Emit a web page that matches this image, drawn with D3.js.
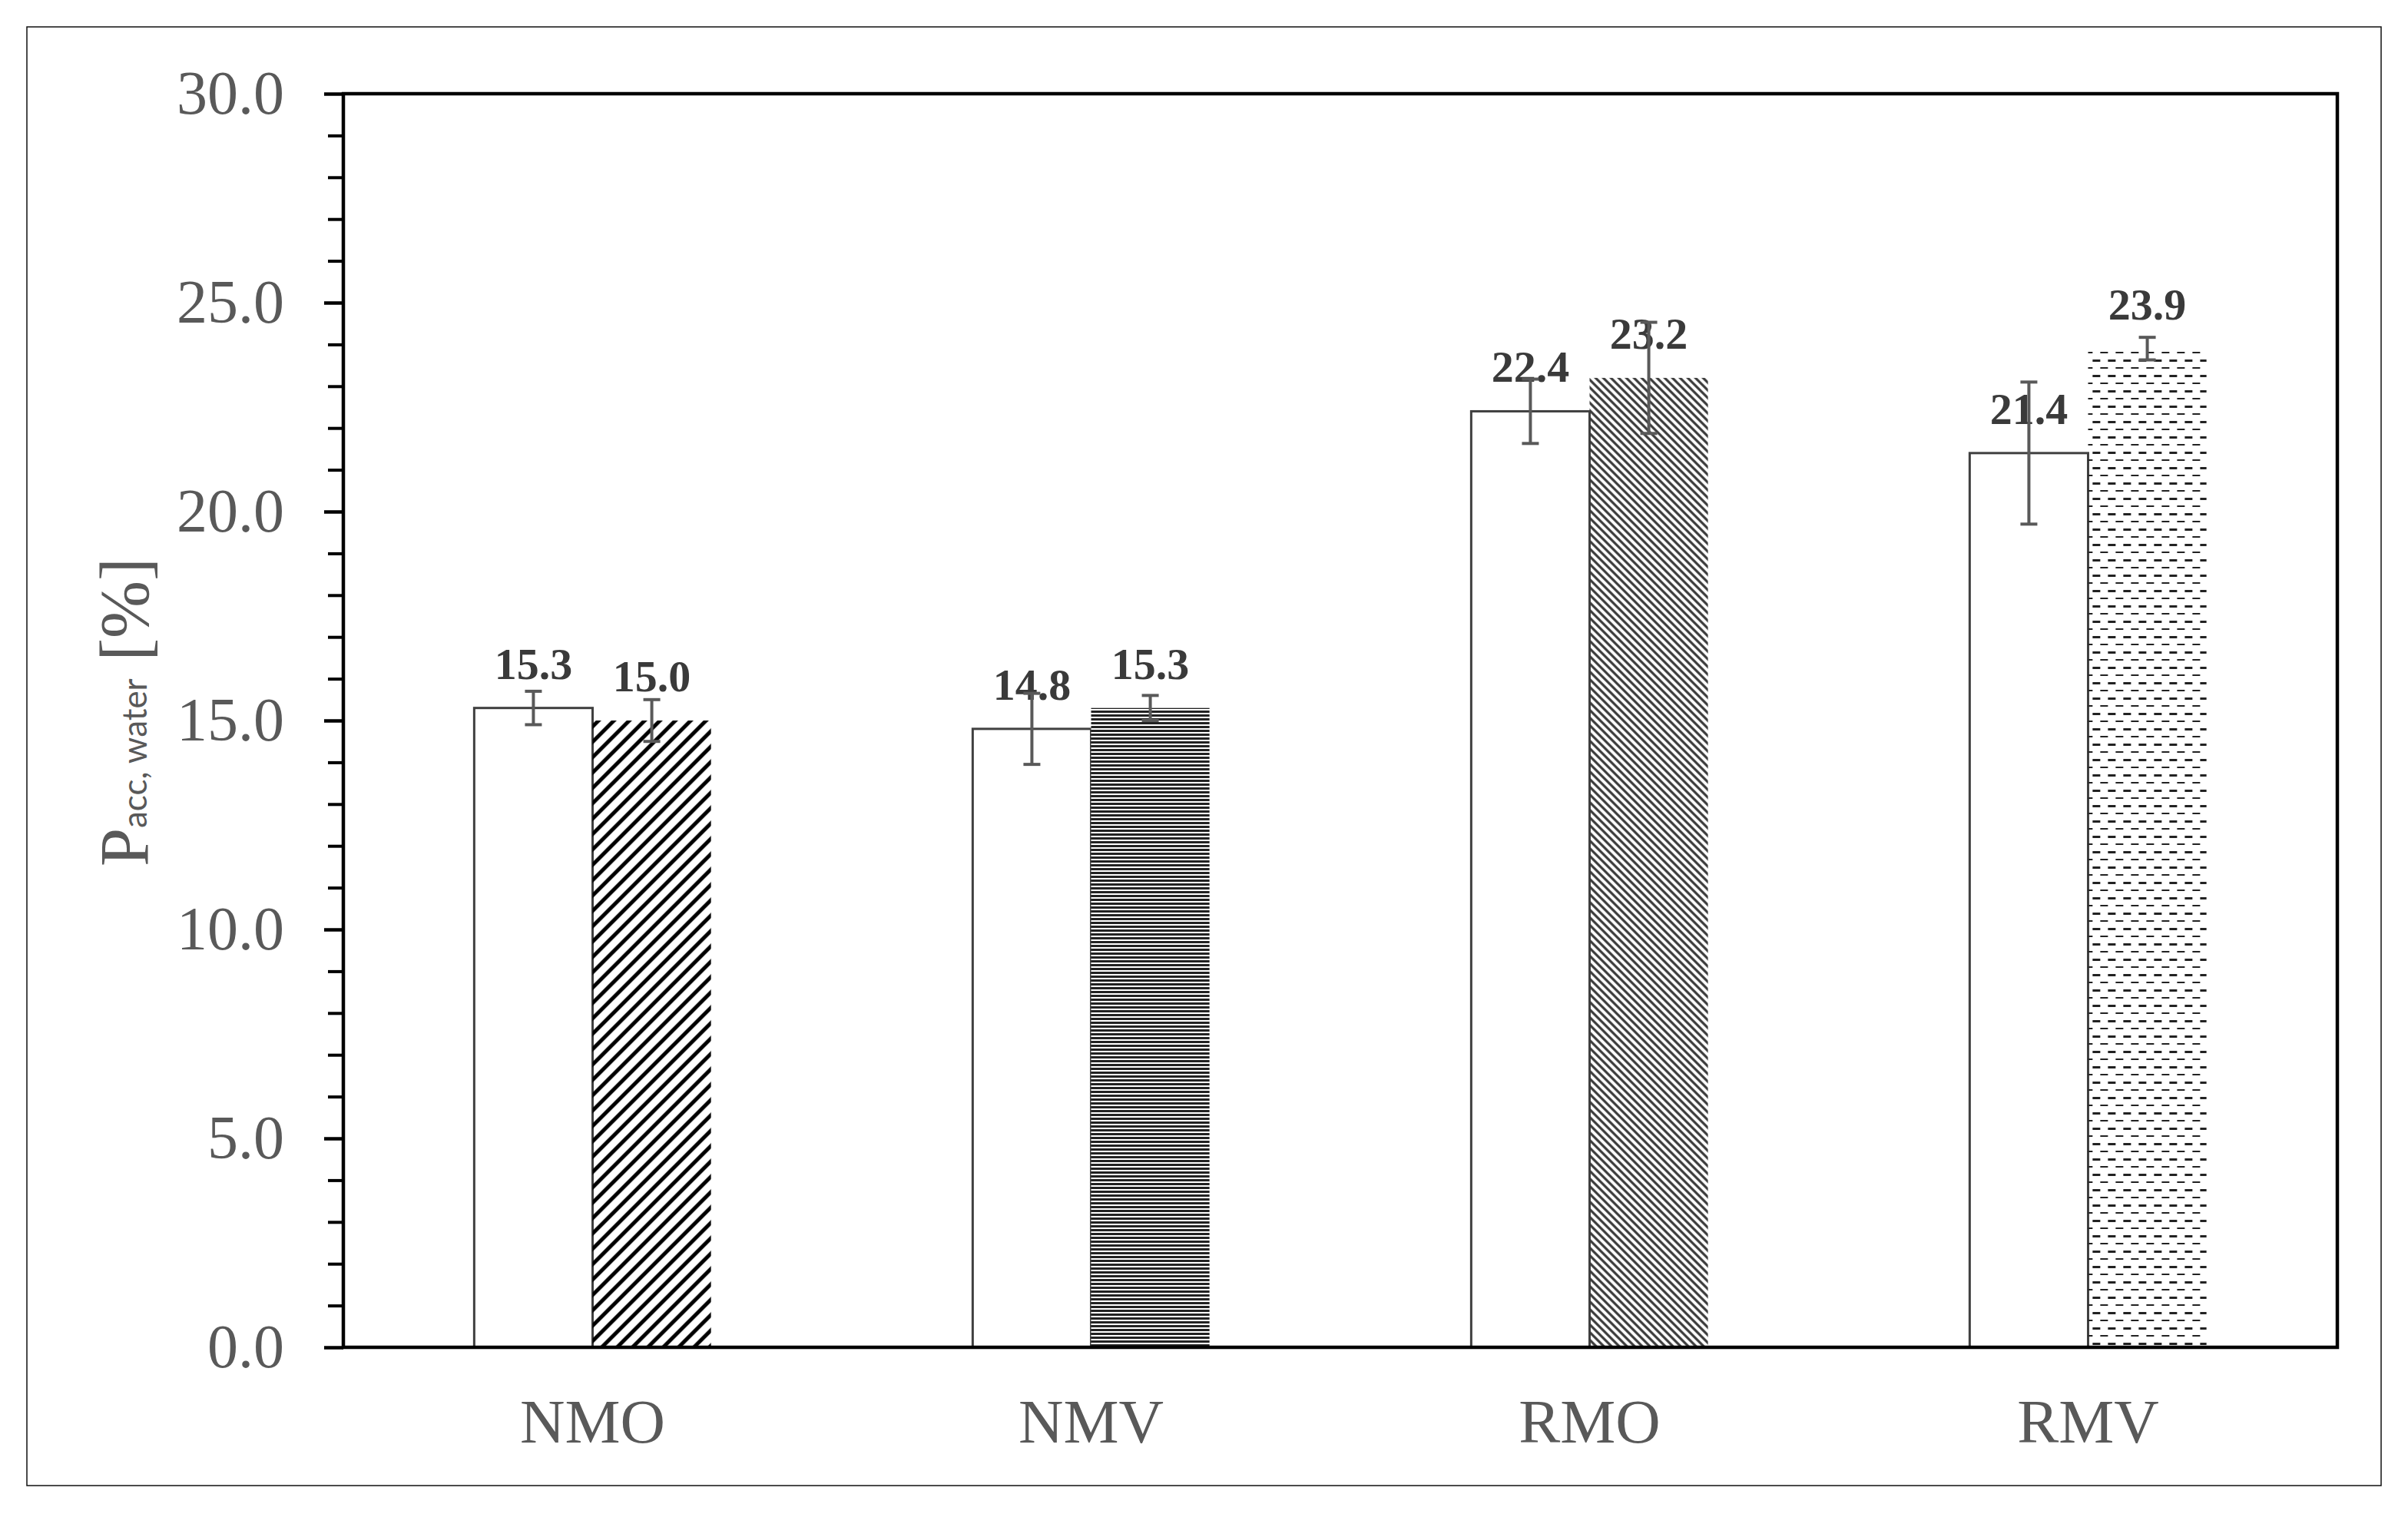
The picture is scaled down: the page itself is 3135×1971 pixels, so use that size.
<!DOCTYPE html>
<html>
<head>
<meta charset="utf-8">
<script src="https://cdn.jsdelivr.net/npm/d3@7"></script>
<style>
  html, body { margin: 0; padding: 0; background: #fff; }
</style>
</head>
<body>
<div id="chart"></div>
<script>
// data
const categories = ["NMO", "NMV", "RMO", "RMV"];
const plainValues = [15.3, 14.8, 22.4, 21.4];
const plainErrors = [0.4, 0.85, 0.77, 1.7];
const patternValues = [15.0, 15.3, 23.2, 23.9];
const patternErrors = [0.5, 0.3, 1.33, 0.27];
const patternIds = ["patWideUp", "patHoriz", "patNarrowDown", "patDash"];
const yTicks = [0, 5, 10, 15, 20, 25, 30];

const width = 3135;
const height = 1971;
const plot = { left: 447, right: 3043, top: 122, bottom: 1754 };

const svg = d3.select("#chart")
  .append("svg")
  .attr("width", width)
  .attr("height", height)
  .style("display", "block");

svg.append("rect")
  .attr("width", width)
  .attr("height", height)
  .attr("fill", "#fff");

// outer frame
svg.append("rect")
  .attr("x", 35)
  .attr("y", 35)
  .attr("width", 3065)
  .attr("height", 1899)
  .attr("fill", "none")
  .attr("stroke", "#111")
  .attr("stroke-width", 1.5);

// fill patterns
const defs = svg.append("defs");

const p1 = defs.append("pattern")
  .attr("id", "patWideUp")
  .attr("patternUnits", "userSpaceOnUse")
  .attr("width", 20).attr("height", 20);
p1.append("path")
  .attr("d", "M-5,5 L5,-5 M0,20 L20,0 M15,25 L25,15")
  .attr("stroke", "#000")
  .attr("stroke-width", 5);

const p2 = defs.append("pattern")
  .attr("id", "patHoriz")
  .attr("patternUnits", "userSpaceOnUse")
  .attr("width", 10).attr("height", 5);
p2.append("rect").attr("width", 10).attr("height", 5).attr("fill", "#fff");
p2.append("rect").attr("y", 0).attr("width", 10).attr("height", 3).attr("fill", "#222");

const p3 = defs.append("pattern")
  .attr("id", "patNarrowDown")
  .attr("patternUnits", "userSpaceOnUse")
  .attr("width", 10).attr("height", 10);
p3.append("path")
  .attr("d", "M0,0 L10,10 M-5,5 L5,15 M5,-5 L15,5")
  .attr("stroke", "#3a3a3a")
  .attr("stroke-width", 3.2);

const p4 = defs.append("pattern")
  .attr("id", "patDash")
  .attr("patternUnits", "userSpaceOnUse")
  .attr("width", 20).attr("height", 20);
p4.append("rect").attr("x", 0).attr("y", 8).attr("width", 10).attr("height", 3).attr("fill", "#222");
p4.append("rect").attr("x", 10).attr("y", 18).attr("width", 10).attr("height", 3).attr("fill", "#222");

// scales
const x0 = d3.scaleBand()
  .domain(categories)
  .range([plot.left, plot.right])
  .paddingInner(0.525)
  .paddingOuter(0.2625);

const x1 = d3.scaleBand()
  .domain(["plain", "pattern"])
  .range([0, x0.bandwidth()]);

const y = d3.scaleLinear()
  .domain([0, 30])
  .range([plot.bottom, plot.top]);

const rows = categories.map((c, i) => ({
  cat: c,
  bars: [
    { key: "plain", value: plainValues[i], err: plainErrors[i], fill: "#fff" },
    { key: "pattern", value: patternValues[i], err: patternErrors[i], fill: `url(#${patternIds[i]})` }
  ]
}));

// bars
const groups = svg.append("g")
  .selectAll("g")
  .data(rows)
  .join("g")
  .attr("transform", (d) => `translate(${x0(d.cat)},0)`);

groups.selectAll("rect")
  .data((d) => d.bars)
  .join("rect")
  .attr("x", (d) => x1(d.key))
  .attr("y", (d) => y(d.value))
  .attr("width", x1.bandwidth())
  .attr("height", (d) => y(0) - y(d.value))
  .attr("fill", (d) => d.fill)
  .attr("stroke", (d) => (d.key === "plain" ? "#404040" : "none"))
  .attr("stroke-width", 3);

// value labels
groups.selectAll("text.val")
  .data((d) => d.bars)
  .join("text")
  .attr("class", "val")
  .attr("x", (d) => x1(d.key) + x1.bandwidth() / 2)
  .attr("y", (d) => y(d.value) - 38)
  .attr("text-anchor", "middle")
  .attr("font-family", "'Liberation Serif', 'Times New Roman', serif")
  .attr("font-weight", "bold")
  .attr("font-size", 58)
  .attr("fill", "#3a3a3a")
  .text((d) => d3.format(".1f")(d.value));

// error bars
const capW = 22;
const errG = groups.selectAll("g.err")
  .data((d) => d.bars)
  .join("g")
  .attr("class", "err")
  .attr("stroke", "#595959")
  .attr("stroke-width", 4);
errG.append("line")
  .attr("x1", (d) => x1(d.key) + x1.bandwidth() / 2)
  .attr("x2", (d) => x1(d.key) + x1.bandwidth() / 2)
  .attr("y1", (d) => y(d.value + d.err))
  .attr("y2", (d) => y(d.value - d.err));
errG.append("line")
  .attr("x1", (d) => x1(d.key) + x1.bandwidth() / 2 - capW / 2)
  .attr("x2", (d) => x1(d.key) + x1.bandwidth() / 2 + capW / 2)
  .attr("y1", (d) => y(d.value + d.err))
  .attr("y2", (d) => y(d.value + d.err));
errG.append("line")
  .attr("x1", (d) => x1(d.key) + x1.bandwidth() / 2 - capW / 2)
  .attr("x2", (d) => x1(d.key) + x1.bandwidth() / 2 + capW / 2)
  .attr("y1", (d) => y(d.value - d.err))
  .attr("y2", (d) => y(d.value - d.err));

// plot border
svg.append("rect")
  .attr("x", plot.left)
  .attr("y", plot.top)
  .attr("width", plot.right - plot.left)
  .attr("height", plot.bottom - plot.top)
  .attr("fill", "none")
  .attr("stroke", "#000")
  .attr("stroke-width", 4.5);

// minor ticks
const minorAxis = d3.axisLeft(y)
  .tickValues(d3.range(0, 31).filter((v) => v % 5 !== 0))
  .tickSize(20)
  .tickFormat("");
svg.append("g")
  .attr("transform", `translate(${plot.left},0)`)
  .call(minorAxis)
  .call((g) => g.select(".domain").remove())
  .call((g) => g.selectAll("line").attr("stroke", "#000").attr("stroke-width", 4));

// major ticks + labels
const yAxis = d3.axisLeft(y)
  .tickValues(yTicks)
  .tickSize(25)
  .tickPadding(52)
  .tickFormat(d3.format(".1f"));
svg.append("g")
  .attr("transform", `translate(${plot.left},0)`)
  .call(yAxis)
  .call((g) => g.select(".domain").remove())
  .call((g) => g.selectAll("line").attr("stroke", "#000").attr("stroke-width", 4.5))
  .call((g) => g.selectAll("text")
    .attr("font-family", "'Liberation Serif', 'Times New Roman', serif")
    .attr("font-size", 80)
    .attr("fill", "#595959"));

// category axis
const xAxis = d3.axisBottom(x0).tickSize(0).tickPadding(0);
svg.append("g")
  .attr("transform", `translate(0,${plot.bottom})`)
  .call(xAxis)
  .call((g) => g.select(".domain").remove())
  .call((g) => g.selectAll("text")
    .attr("dy", null)
    .attr("y", 124)
    .attr("font-family", "'Liberation Serif', 'Times New Roman', serif")
    .attr("font-size", 81)
    .attr("fill", "#595959"));

// y axis title
const yTitle = svg.append("text")
  .attr("transform", "translate(193,927) rotate(-90)")
  .attr("text-anchor", "middle")
  .attr("fill", "#595959")
  .attr("font-family", "'Liberation Serif', 'Times New Roman', serif")
  .attr("font-size", 90);
yTitle.append("tspan").text("P");
yTitle.append("tspan")
  .attr("font-family", "Lato, 'Open Sans', sans-serif")
  .attr("font-size", 44)
  .attr("dy", -2)
  .text("acc, water");
yTitle.append("tspan")
  .attr("dy", 2)
  .text(" [%]");
</script>
</body>
</html>
